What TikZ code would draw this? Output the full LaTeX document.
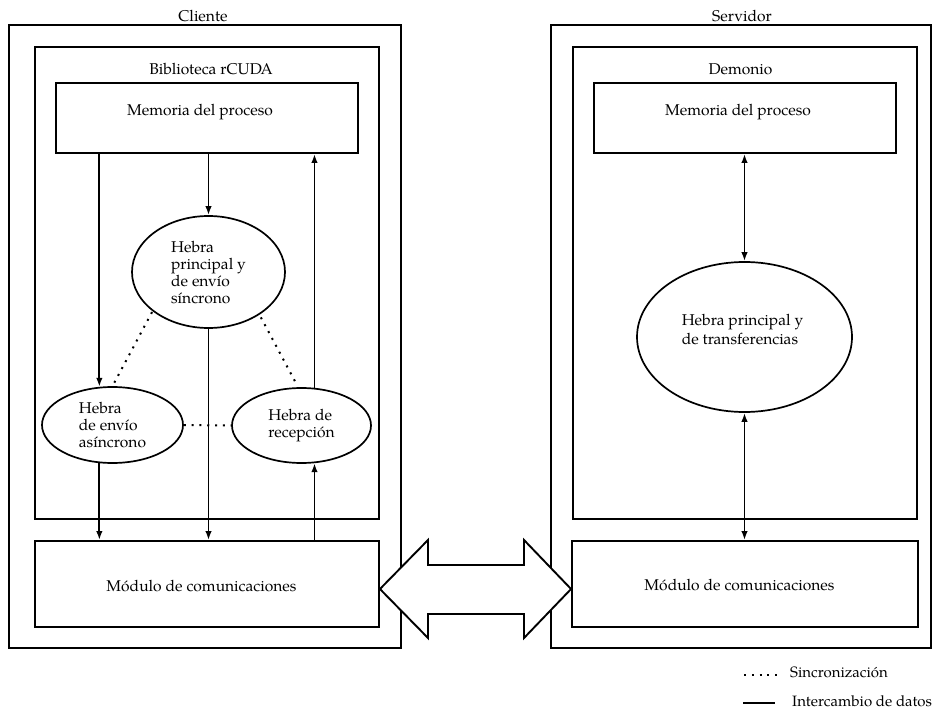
\documentclass[tikz,border=0pt]{standalone}
\usepackage{fontspec}
\setmainfont{texgyrepagella-regular.otf}
\usetikzlibrary{arrows.meta,shapes.geometric}
\begin{document}
\begin{tikzpicture}[x=1pt,y=-1pt,
  txt/.style={font=\fontsize{15.6}{17.5}\selectfont, inner sep=0pt},
  box/.style={draw, line width=1.9pt, inner sep=0pt},
  thread/.style={draw, ellipse, line width=1.7pt, inner sep=0pt, align=left,
                 font=\fontsize{15.6}{17}\selectfont},
  arr/.style={line width=1.8pt, -{Latex[length=9pt,width=6.5pt]}},
  darr/.style={line width=1.8pt, {Latex[length=9pt,width=6.5pt]}-{Latex[length=9pt,width=6.5pt]}},
  sync/.style={line width=2pt, dash pattern=on 2pt off 5.8pt},
  bigarrow/.style={draw, fill=white, line width=1.9pt, line join=miter}
]
\useasboundingbox (0,0) rectangle (933,708);

% ---- client ----
\node[box, minimum width=392pt, minimum height=623pt] (cli) at (205,336.5) {};
\node[box, minimum width=344pt, minimum height=472pt] (bib) at (207,283) {};
\node[box, minimum width=302pt, minimum height=70pt] (mem) at (207,118) {};
\node[box, minimum width=344pt, minimum height=86pt] (comm) at (207,584) {};

\node[txt, anchor=base] (clit) at (203,22) {Cliente};
\node[txt, anchor=base] (bibt) at (211,75) {Biblioteca rCUDA};
\node[txt, anchor=base] (memt) at (200,116) {Memoria del proceso};
\node[txt, anchor=base] (commt) at (201.5,591) {Módulo de comunicaciones};

\node[thread, minimum width=153pt, minimum height=112pt] (syn) at (208.5,272)
  {Hebra\\principal y\\de envío\\síncrono};
\node[thread, minimum width=141pt, minimum height=76pt] (asy) at (112.5,425)
  {Hebra\\de envío\\asíncrono};
\node[thread, minimum width=139pt, minimum height=75pt] (rec) at (301.5,425.5)
  {Hebra de\\recepción};

\draw[arr] (mem.south -| asy.109) -- (asy.109);
\draw[arr] (mem.south -| syn.north) -- (syn.north);
\draw[arr] (rec.71) -- (rec.71 |- mem.south);
\draw[arr] (syn.south) -- (syn.south |- comm.north);
\draw[arr] (asy.-109) -- (asy.-109 |- comm.north);
\draw[arr] (rec.-71 |- comm.north) -- (rec.-71);

\draw[sync, shorten <=1pt] (syn.215) -- (asy.north);
\draw[sync, shorten <=3pt, shorten >=2pt] (syn.-40) -- (rec.95);
\draw[sync] (asy.east) -- (rec.west);

% ---- server ----
\node[box, minimum width=380pt, minimum height=623pt] (srv) at (741,336.5) {};
\node[box, minimum width=344pt, minimum height=472pt] (dem) at (745,283) {};
\node[box, minimum width=302pt, minimum height=70pt] (smem) at (745,118) {};
\node[box, minimum width=346pt, minimum height=86pt] (scomm) at (745,584) {};

\node[txt, anchor=base] (srvt) at (742,22) {Servidor};
\node[txt, anchor=base] (demt) at (740.5,75) {Demonio};
\node[txt, anchor=base] (smemt) at (738,116) {Memoria del proceso};
\node[txt, anchor=base] (scommt) at (739.5,590) {Módulo de comunicaciones};

\node[thread, minimum width=215pt, minimum height=150pt] (sel) at (744.5,337) {};
\node[txt, align=left, font=\fontsize{15.6}{19}\selectfont] (selt) at (742.5,329)
  {Hebra principal y\\de transferencias};

\draw[darr] (sel.north |- smem.south) -- (sel.north);
\draw[darr] (sel.south) -- (sel.south |- scomm.north);

% ---- communication arrow ----
\draw[bigarrow] (comm.east |- 0,589) -- (428,540) -- (428,565) -- (524,565) -- (524,540)
  -- (scomm.west |- 0,589) -- (524,638) -- (524,614) -- (428,614) -- (428,638) -- cycle;

% ---- legend ----
\coordinate (l1a) at (744,675);
\coordinate (l1b) at (777,675);
\coordinate (l2a) at (743,703);
\coordinate (l2b) at (775,703);
\draw[sync] (l1a) -- (l1b);
\draw[line width=2pt] (l2a) -- (l2b);
\node[txt, anchor=base west, font=\fontsize{15}{17}\selectfont] (lg1) at (790,677) {Sincronización};
\node[txt, anchor=base west, font=\fontsize{15}{17}\selectfont] (lg2) at (792,706) {Intercambio de datos};
\end{tikzpicture}
\end{document}
